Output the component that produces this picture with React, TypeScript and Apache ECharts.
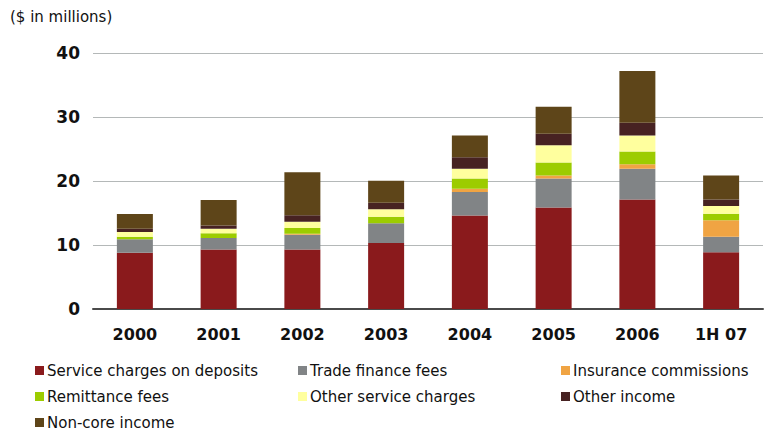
import React, { useEffect, useRef } from "react";
import * as echarts from "echarts";

const categories = ["2000", "2001", "2002", "2003", "2004", "2005", "2006", "1H 07"];
const serviceCharges = [8.8, 9.3, 9.3, 10.3, 14.6, 15.85, 17.1, 8.85];
const tradeFinance = [2.1, 1.8, 2.3, 3.1, 3.7, 4.55, 4.8, 2.45];
const insurance = [0, 0, 0.15, 0, 0.5, 0.45, 0.7, 2.55];
const remittance = [0.4, 0.75, 0.9, 1.0, 1.6, 2.05, 2.0, 1.05];
const otherService = [0.75, 0.7, 1.0, 1.2, 1.5, 2.7, 2.5, 1.2];
const otherIncome = [0.5, 0.5, 1.0, 1.0, 1.8, 1.8, 2.0, 1.0];
const nonCore = [2.3, 4.0, 6.7, 3.45, 3.4, 4.2, 8.1, 3.75];
const yTicks = [0, 10, 20, 30, 40];

const seriesDefs = [
  { name: "Service charges on deposits", data: serviceCharges, color: "#8a1a1c" },
  { name: "Trade finance fees", data: tradeFinance, color: "#818486" },
  { name: "Insurance commissions", data: insurance, color: "#f0a443" },
  { name: "Remittance fees", data: remittance, color: "#9ccc00" },
  { name: "Other service charges", data: otherService, color: "#ffff9e" },
  { name: "Other income", data: otherIncome, color: "#472222" },
  { name: "Non-core income", data: nonCore, color: "#5e4519" },
];

const font = "Verdana, 'DejaVu Sans', sans-serif";

export default function App() {
  const ref = useRef<HTMLDivElement>(null);
  useEffect(() => {
    if (!ref.current) return;
    const chart = echarts.init(ref.current, undefined, { renderer: "svg" });
    const legendCommon = {
      orient: "vertical" as const,
      icon: "rect",
      itemWidth: 9,
      itemHeight: 9,
      itemGap: 9,
      top: 362,
      height: 80,
      padding: 0,
      selectedMode: false,
      textStyle: { fontFamily: font, fontSize: 15, color: "#111", lineHeight: 17, padding: [0, 0, 0, -2] },
    };
    chart.setOption({
      animation: false,
      backgroundColor: "#fff",
      graphic: [
        {
          type: "text",
          left: 10,
          top: 9,
          style: { text: "($ in millions)", fontFamily: font, fontSize: 15, fill: "#111" },
        },
      ],
      legend: [
        { ...legendCommon, left: 35, data: [seriesDefs[0].name, seriesDefs[3].name, seriesDefs[6].name] },
        { ...legendCommon, left: 298, data: [seriesDefs[1].name, seriesDefs[4].name] },
        { ...legendCommon, left: 561, data: [seriesDefs[2].name, seriesDefs[5].name] },
      ],
      grid: { left: 93, right: 11, top: 53, bottom: 127, containLabel: false },
      xAxis: {
        type: "category",
        data: categories,
        axisLine: { show: true, lineStyle: { color: "#4a4a4a", width: 2 } },
        axisTick: { show: false },
        axisLabel: { fontFamily: font, fontSize: 16, fontWeight: "bold", color: "#111", margin: 17 },
      },
      yAxis: {
        type: "value",
        min: yTicks[0],
        max: yTicks[yTicks.length - 1],
        interval: 10,
        axisLine: { show: false },
        axisTick: { show: false },
        axisLabel: { fontFamily: font, fontSize: 17, fontWeight: "bold", color: "#111", margin: 13 },
        splitLine: { lineStyle: { color: "#b4b8b8", width: 1 } },
      },
      series: seriesDefs.map((s) => ({
        name: s.name,
        type: "bar",
        stack: "total",
        barWidth: 36,
        data: s.data,
        itemStyle: { color: s.color },
      })),
    });
    return () => chart.dispose();
  }, []);
  return <div ref={ref} style={{ width: 774, height: 436, position: "absolute", left: 0, top: 0 }} />;
}
